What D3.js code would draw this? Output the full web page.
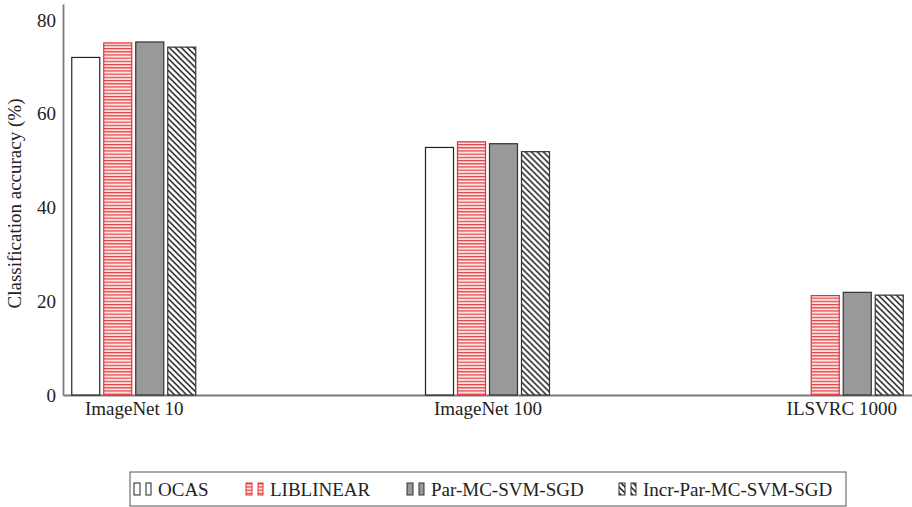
<!DOCTYPE html>
<html lang="en">
<head>
    <meta charset="UTF-8">
    <style>
        body { margin: 0; background: #fff; }
        text { font-family: "Liberation Serif", "Times New Roman", serif; fill: #222; }
    </style>
    <title>Classification accuracy</title>
</head>
<body>
<script src="https://d3js.org/d3.v7.min.js" charset="utf-8"></script>
<script>
    // data
    var categories = ['ImageNet 10', 'ImageNet 100', 'ILSVRC 1000'];
    var seriesNames = ['OCAS', 'LIBLINEAR', 'Par-MC-SVM-SGD', 'Incr-Par-MC-SVM-SGD'];
    var ocas = [72.0, 52.8, 0];
    var liblinear = [75.1, 54.0, 21.2];
    var parSgd = [75.3, 53.6, 21.9];
    var incrSgd = [74.2, 51.9, 21.3];
    var yTicks = [0, 20, 40, 60, 80];

    var values = [ocas, liblinear, parSgd, incrSgd];

    var width = 912, height = 507;
    var plotLeft = 63, plotRight = 912, plotTop = 4, plotBottom = 395;

    var svg = d3.select('body').append('svg').attr('width', width).attr('height', height);

    var defs = svg.append('defs');

    // red horizontal stripes
    var pStripe = defs.append('pattern').attr('id', 'stripes')
        .attr('patternUnits', 'userSpaceOnUse').attr('width', 8).attr('height', 3.2);
    pStripe.append('rect').attr('width', 8).attr('height', 3.2).attr('fill', '#fbe3e3');
    pStripe.append('line').attr('x1', 0).attr('x2', 8).attr('y1', 0.6).attr('y2', 0.6)
        .attr('stroke', '#e8312f').attr('stroke-width', 1.1);

    // black back-slash hatch
    var pHatch = defs.append('pattern').attr('id', 'hatch')
        .attr('patternUnits', 'userSpaceOnUse').attr('width', 6).attr('height', 6);
    pHatch.append('rect').attr('width', 6).attr('height', 6).attr('fill', '#fff');
    pHatch.append('path').attr('d', 'M-1,-1 L7,7 M-1,5 L1,7 M5,-1 L7,1')
        .attr('stroke', '#111').attr('stroke-width', 1.4);

    var styles = [
        {fill: '#ffffff', stroke: '#222'},
        {fill: 'url(#stripes)', stroke: '#e8312f'},
        {fill: '#999999', stroke: '#333'},
        {fill: 'url(#hatch)', stroke: '#333'}
    ];

    var x = d3.scaleLinear().domain([0.8, 3.2]).range([plotLeft, plotRight]);
    var inner = d3.scaleBand().domain(d3.range(seriesNames.length)).range([-62, 62])
        .paddingInner(0.125).paddingOuter(0);
    var y = d3.scaleLinear().domain([0, 83.4]).range([plotBottom, plotTop]);

    // axes
    var yAxis = svg.append('g').attr('transform', 'translate(' + plotLeft + ',0)')
        .call(d3.axisLeft(y).tickValues(yTicks).tickSize(0).tickPadding(7));
    var xAxis = svg.append('g').attr('transform', 'translate(0,' + plotBottom + ')')
        .call(d3.axisBottom(x).tickValues([1, 2, 3]).tickSize(0).tickPadding(7)
            .tickFormat(function (d) { return categories[d - 1]; }));

    [yAxis, xAxis].forEach(function (a) {
        a.select('.domain').attr('stroke', '#7a7a7a').attr('stroke-width', 1.8);
        a.selectAll('text').attr('font-size', 19).attr('fill', '#222')
            .style('font-family', '"Liberation Serif", serif');
    });

    svg.append('text')
        .attr('transform', 'translate(21,' + ((plotTop + plotBottom) / 2 + 4) + ') rotate(-90)')
        .attr('text-anchor', 'middle')
        .attr('font-size', 19)
        .text('Classification accuracy (%)');

    // bars
    var groups = svg.append('g').selectAll('g')
        .data(categories).enter().append('g')
        .attr('transform', function (d, i) { return 'translate(' + x(i + 1) + ',0)'; });

    groups.selectAll('rect')
        .data(function (d, i) { return values.map(function (s, k) { return {k: k, v: s[i]}; }); })
        .enter().append('rect')
        .attr('x', function (d) { return inner(d.k); })
        .attr('width', inner.bandwidth())
        .attr('y', function (d) { return y(d.v); })
        .attr('height', function (d) { return y(0) - y(d.v); })
        .attr('fill', function (d) { return styles[d.k].fill; })
        .attr('stroke', function (d) { return styles[d.k].stroke; })
        .attr('stroke-width', 1.2);

    // legend
    var legendX = [158, 270, 431, 643];
    var legend = svg.append('g');
    legend.append('rect').attr('x', 130).attr('y', 472).attr('width', 716).attr('height', 34)
        .attr('fill', '#fff').attr('stroke', '#555').attr('stroke-width', 1);

    var items = legend.selectAll('g.item').data(seriesNames).enter().append('g').attr('class', 'item');
    items.each(function (name, k) {
        var g = d3.select(this);
        [[-24, 6], [-12, 5]].forEach(function (s) {
            g.append('rect')
                .attr('x', legendX[k] + s[0]).attr('y', 483)
                .attr('width', s[1]).attr('height', 12)
                .attr('fill', styles[k].fill).attr('stroke', styles[k].stroke).attr('stroke-width', 1);
        });
        g.append('text').attr('x', legendX[k]).attr('y', 496).attr('font-size', 19).text(name);
    });
</script>
</body>
</html>
